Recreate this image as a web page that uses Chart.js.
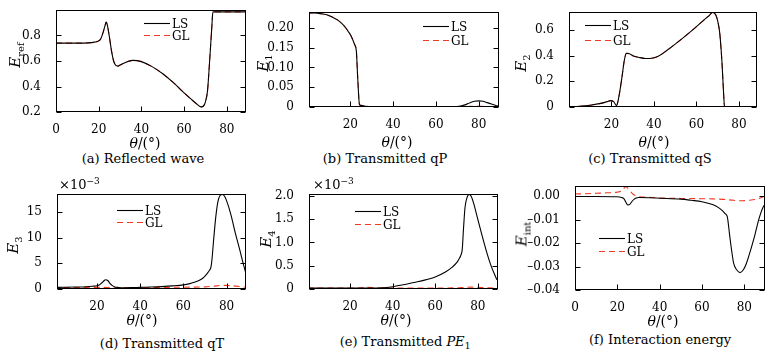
<!DOCTYPE html>
<html><head><meta charset="utf-8">
<script src="https://cdn.jsdelivr.net/npm/chart.js@4.4.1/dist/chart.umd.min.js"></script>
<style>
html,body{margin:0;padding:0;background:#fff;}
#wrap{position:relative;width:775px;height:355px;overflow:hidden;font-family:'DejaVu Serif',serif;color:#000;}
canvas{position:absolute;}
.lbl{position:absolute;white-space:nowrap;transform:translate(-50%,-50%);font-size:13px;line-height:1;}
.ttl{font-size:14px;}
.ylab{position:absolute;white-space:nowrap;transform:translate(-50%,-50%) rotate(-90deg);font-size:15px;line-height:15px;}
.ylab sub{font-size:10px;line-height:0;}
.mult{position:absolute;white-space:nowrap;font-size:13px;line-height:1;transform:translateY(-50%);}
.mult sup{font-size:9px;}
</style></head>
<body><div id="wrap"></div>
<script>
// ---------- data ----------
const thetaA = [0,5,10,15,18,20,21,22,23,23.5,24,25,26,27,28,29,30,32,34,36,38,40,45,50,55,60,63,66,68,69,70,71,72,73,73.5,75,80,85,89];
const lsA    = [0.74,0.74,0.74,0.742,0.748,0.758,0.775,0.82,0.88,0.905,0.885,0.79,0.68,0.60,0.565,0.56,0.568,0.585,0.598,0.605,0.603,0.595,0.556,0.50,0.43,0.35,0.305,0.262,0.24,0.245,0.28,0.37,0.61,0.87,0.985,0.985,0.985,0.985,0.985];
const glA    = [0.74,0.74,0.74,0.742,0.748,0.758,0.775,0.82,0.88,0.905,0.885,0.79,0.68,0.60,0.565,0.56,0.568,0.585,0.598,0.605,0.603,0.595,0.556,0.50,0.43,0.35,0.305,0.262,0.24,0.245,0.28,0.37,0.61,0.87,0.985,0.985,0.985,0.985,0.985];

const thetaB = [0,3,6,9,12,14,16,18,19,20,21,22,22.8,23.5,24.3,25,27,30,40,50,60,68,70,72,74,76,78,80,82,84,86,88,89];
const lsB    = [0.238,0.2375,0.236,0.233,0.226,0.22,0.211,0.199,0.191,0.183,0.172,0.158,0.143,0.07,0.006,0.004,0.002,0.001,0.0008,0.0008,0.0008,0.001,0.0012,0.003,0.006,0.011,0.0145,0.0155,0.0145,0.011,0.0075,0.004,0.0025];
const glB    = [0.238,0.2375,0.236,0.233,0.226,0.22,0.211,0.199,0.191,0.183,0.172,0.158,0.143,0.07,0.006,0.004,0.002,0.001,0.0008,0.0008,0.0008,0.001,0.0012,0.0013,0.0014,0.0015,0.0015,0.0015,0.0015,0.0014,0.0013,0.0012,0.0012];

const thetaC = [0,5,10,15,18,19.5,21,22.4,23,24,25,26,27,28.5,30,33,36,39,42,46,50,55,60,64,66,67.5,69,70,71,72,72.8,73.2,76,80,85,89];
const lsC    = [0,0.005,0.014,0.028,0.042,0.05,0.042,0.01,0.04,0.13,0.24,0.36,0.418,0.415,0.40,0.386,0.378,0.38,0.395,0.44,0.49,0.556,0.626,0.685,0.712,0.736,0.72,0.67,0.57,0.35,0.1,0,0,0,0,0];
const glC    = [0,0.005,0.014,0.028,0.042,0.05,0.042,0.01,0.04,0.13,0.24,0.36,0.418,0.415,0.40,0.386,0.378,0.38,0.395,0.44,0.49,0.556,0.626,0.685,0.712,0.736,0.72,0.67,0.57,0.35,0.1,0,0,0,0,0];

// panel (d): values in units of 1e-3
const thetaD  = [0,5,10,15,18,20,21,22,23,24,25,26,27,28,30,33,36,40,45,50,55,60,63,65,67,69,70,71,72,72.8,73.3,74,75,76,77,78,79,80,82,84,86,88,89];
const lsD     = [0.3,0.33,0.38,0.45,0.55,0.65,0.8,1.1,1.5,1.8,1.65,1.1,0.7,0.45,0.3,0.25,0.26,0.32,0.38,0.47,0.6,0.8,1.05,1.3,1.6,2.1,2.5,3.0,3.6,4.3,6.0,9.5,14,17,18.2,18.4,18.1,17.2,14.5,11,7.8,4.5,3.0];
const thetaGD = [0,10,20,25,30,40,50,60,70,74,78,82,86,89];
const glD     = [0.3,0.3,0.32,0.3,0.22,0.25,0.3,0.35,0.42,0.55,0.7,0.65,0.5,0.35];

// panel (e): values in units of 1e-3
const thetaE  = [0,10,20,30,35,40,45,50,55,60,65,68,70,71,72,72.7,73.3,74,75,76,77,78,80,82,84,86,88,89];
const lsE     = [0.02,0.02,0.02,0.02,0.025,0.05,0.09,0.14,0.19,0.26,0.37,0.47,0.56,0.63,0.72,0.85,1.3,1.75,1.97,2.03,1.98,1.85,1.5,1.15,0.82,0.53,0.3,0.2];
const thetaGE = [0,10,20,25,28,31,35,40,50,60,70,74,77,80,85,89];
const glE     = [0.02,0.02,0.02,0.025,0.035,0.03,0.02,0.02,0.02,0.02,0.025,0.035,0.04,0.035,0.025,0.02];

const thetaF  = [0,10,20,22,23,24,25,26,27,28,29,30,35,40,50,55,60,65,68,70,71,72,73,74,75,76.5,78,79.5,81,83,85,87,89,90];
const lsF     = [-0.0002,-0.0002,-0.0003,-0.0006,-0.001,-0.0025,-0.0038,-0.0034,-0.0022,-0.0013,-0.0008,-0.0006,-0.0007,-0.0009,-0.0013,-0.0018,-0.0024,-0.0036,-0.005,-0.0065,-0.0075,-0.0088,-0.016,-0.023,-0.0287,-0.0315,-0.0326,-0.0315,-0.0287,-0.023,-0.0166,-0.0095,-0.0045,-0.0035];
const thetaGF = [0,5,10,15,20,22,23,24,25,26,27,28,29,30,35,40,50,60,65,70,75,78,82,86,89,90];
const glF     = [0.0009,0.001,0.0012,0.0014,0.0017,0.0022,0.0032,0.004,0.0033,0.0022,0.0012,0.0005,0.0001,-0.0002,-0.0005,-0.0008,-0.001,-0.0011,-0.0012,-0.0014,-0.0018,-0.002,-0.0018,-0.0013,-0.0003,-0.0001];

// tick values and labels
const xTicks0 = [0,20,40,60,80];
const xTicks20 = [20,40,60,80];
const yTicksA = [0.2,0.4,0.6,0.8];        const yLabA = ['0.2','0.4','0.6','0.8'];
const yTicksB = [0,0.05,0.10,0.15,0.20];  const yLabB = ['0','0.05','0.10','0.15','0.20'];
const yTicksC = [0,0.2,0.4,0.6];          const yLabC = ['0','0.2','0.4','0.6'];
const yTicksD = [0,5,10,15];              const yLabD = ['0','5','10','15'];
const yTicksE = [0,0.5,1.0,1.5,2.0];      const yLabE = ['0','0.5','1.0','1.5','2.0'];
const yTicksF = [-0.04,-0.03,-0.02,-0.01,0]; const yLabF = ['\u20130.04','\u20130.03','\u20130.02','\u20130.01','0.00'];
const seriesNames = ['LS','GL'];

// ---------- layout / style ----------
const RED = '#ee3a22';
const FONT = "'DejaVu Serif', serif";
Chart.defaults.font.family = FONT;
Chart.defaults.font.size = 12;
Chart.defaults.color = '#000';

const panels = [
  {L:56,R:246,T:10,B:112, x:[0,89],   y:[0.2,1.0],   xt:xTicks0,  yt:yTicksA, yl:yLabA, ls:[thetaA,lsA], gl:[thetaA,glA], leg:[88,13,25]},
  {L:309,R:499,T:12,B:107, x:[0.7,89.5], y:[0,0.24],  xt:xTicks20, yt:yTicksB, yl:yLabB, ls:[thetaB,lsB], gl:[thetaB,glB], leg:[114,14,28]},
  {L:569,R:757,T:12,B:107, x:[0,88.5], y:[0,0.74],    xt:xTicks20, yt:yTicksC, yl:yLabC, ls:[thetaC,lsC], gl:[thetaC,glC], leg:[16,13,28]},
  {L:57,R:246,T:194,B:289, x:[1.5,89], y:[0,18.5],    xt:xTicks20, yt:yTicksD, yl:yLabD, ls:[thetaD,lsD], gl:[thetaGD,glD], leg:[60,16,28]},
  {L:309,R:498,T:194,B:289, x:[0.7,89.5], y:[0,2.04], xt:xTicks20, yt:yTicksE, yl:yLabE, ls:[thetaE,lsE], gl:[thetaGE,glE], leg:[46,17,30]},
  {L:575,R:765,T:186,B:290, x:[0,89.8], y:[-0.04,0.0043], xt:xTicks0, yt:yTicksF, yl:yLabF, ls:[thetaF,lsF], gl:[thetaGF,glF], leg:[24,52,65]}
];

const texts = [
  {cls:'lbl', x:143, y:158, html:'(a) Reflected wave'},
  {cls:'lbl', x:385, y:158, html:'(b) Transmitted qP'},
  {cls:'lbl', x:650, y:158, html:'(c) Transmitted qS'},
  {cls:'lbl', x:162, y:343, html:'(d) Transmitted qT'},
  {cls:'lbl', x:405, y:343, html:'(e) Transmitted <i>PE</i><sub style="font-size:9px">1</sub>'},
  {cls:'lbl', x:660, y:339, html:'(f) Interaction energy'},
  {cls:'lbl ttl', x:145, y:143, html:'<i>θ</i>/(°)'},
  {cls:'lbl ttl', x:397, y:142, html:'<i>θ</i>/(°)'},
  {cls:'lbl ttl', x:654, y:142, html:'<i>θ</i>/(°)'},
  {cls:'lbl ttl', x:142, y:320, html:'<i>θ</i>/(°)'},
  {cls:'lbl ttl', x:396, y:320, html:'<i>θ</i>/(°)'},
  {cls:'lbl ttl', x:663, y:321, html:'<i>θ</i>/(°)'},
  {cls:'ylab', x:15, y:55, html:'<i>E</i><sub>ref</sub>'},
  {cls:'ylab', x:263, y:63, html:'<i>E</i><sub>1</sub>'},
  {cls:'ylab', x:521, y:63, html:'<i>E</i><sub>2</sub>'},
  {cls:'ylab', x:13, y:245, html:'<i>E</i><sub>3</sub>'},
  {cls:'ylab', x:266, y:239, html:'<i>E</i><sub>4</sub>'},
  {cls:'ylab', x:522, y:234, html:'<i>E</i><sub>int</sub>'},
  {cls:'mult', x:59, y:184, html:'×10<sup>−3</sup>'},
  {cls:'mult', x:313, y:184, html:'×10<sup>−3</sup>'}
];

const framePlugin = {
  id:'frame',
  afterDatasetsDraw(chart){
    const {ctx, chartArea:a, scales:{x, y}} = chart;
    ctx.save();
    ctx.strokeStyle = '#000'; ctx.lineWidth = 1;
    const l = Math.round(a.left)+0.5, t = Math.round(a.top)+0.5, r = Math.round(a.right)-0.5, b = Math.round(a.bottom)-0.5;
    ctx.strokeRect(l, t, r-l, b-t);
    ctx.beginPath();
    x.ticks.forEach(tk => { const px = Math.round(x.getPixelForValue(tk.value))+0.5; ctx.moveTo(px, b); ctx.lineTo(px, b-5); });
    y.ticks.forEach(tk => { const py = Math.round(y.getPixelForValue(tk.value))+0.5; ctx.moveTo(l, py); ctx.lineTo(l+5, py); ctx.moveTo(r, py); ctx.lineTo(r-5, py); });
    ctx.stroke();
    ctx.restore();
  }
};

const legendPlugin = {
  id:'boxLegend',
  afterDraw(chart, args, opts){
    const {ctx, chartArea:a} = chart;
    const x0 = a.left + opts.dx;
    const ys = [a.top + opts.dy1, a.top + opts.dy2];
    ctx.save();
    chart.data.datasets.forEach((ds, i) => {
      const yy = Math.round(ys[i]) + 0.5;
      ctx.strokeStyle = ds.borderColor; ctx.lineWidth = ds.borderWidth;
      ctx.setLineDash(ds.borderDash || []);
      ctx.beginPath(); ctx.moveTo(x0, yy); ctx.lineTo(x0 + 26, yy); ctx.stroke();
      ctx.setLineDash([]);
      ctx.fillStyle = '#000'; ctx.font = '12px ' + FONT; ctx.textBaseline = 'middle'; ctx.textAlign = 'left';
      ctx.fillText(ds.label, x0 + 28, yy + 1);
    });
    ctx.restore();
  }
};

const wrap = document.getElementById('wrap');
const YW = 55, PT = 18, PR = 6, XH = 24;

panels.forEach(p => {
  const cv = document.createElement('canvas');
  const w = YW + (p.R - p.L) + PR, h = PT + (p.B - p.T) + XH;
  cv.width = w; cv.height = h;
  cv.style.left = (p.L - YW) + 'px'; cv.style.top = (p.T - PT) + 'px';
  cv.style.width = w + 'px'; cv.style.height = h + 'px';
  wrap.appendChild(cv);
  const mk = (arr) => arr[0].map((x, i) => ({x, y: arr[1][i]}));
  new Chart(cv, {
    type:'line',
    data:{datasets:[
      {label:seriesNames[0], data:mk(p.ls), borderColor:'#000', borderWidth:1.1, pointRadius:0, cubicInterpolationMode:'monotone', fill:false},
      {label:seriesNames[1], data:mk(p.gl), borderColor:RED, borderWidth:1.1, borderDash:[6,4], pointRadius:0, cubicInterpolationMode:'monotone', fill:false}
    ]},
    options:{
      responsive:false, animation:false, devicePixelRatio:1,
      layout:{padding:{top:PT, right:PR, left:0, bottom:0}},
      plugins:{legend:{display:false}, tooltip:{enabled:false}, boxLegend:{dx:p.leg[0], dy1:p.leg[1], dy2:p.leg[2]}},
      scales:{
        x:{type:'linear', min:p.x[0], max:p.x[1], grid:{display:false}, border:{display:false},
           ticks:{padding:3, maxRotation:0, autoSkip:false, color:'#000', font:{family:FONT, size:12}},
           afterBuildTicks:s => { s.ticks = p.xt.map(v => ({value:v})); },
           afterFit:s => { s.height = XH; }},
        y:{type:'linear', min:p.y[0], max:p.y[1], grid:{display:false}, border:{display:false},
           ticks:{padding:7, autoSkip:false, color:'#000', font:{family:FONT, size:12}, callback:(v, i) => p.yl[i]},
           afterBuildTicks:s => { s.ticks = p.yt.map(v => ({value:v})); },
           afterFit:s => { s.width = YW; }}
      }
    },
    plugins:[framePlugin, legendPlugin]
  });
});

texts.forEach(t => {
  const d = document.createElement('div');
  d.className = t.cls; d.style.left = t.x + 'px'; d.style.top = t.y + 'px';
  d.innerHTML = t.html;
  wrap.appendChild(d);
});
</script>
</body></html>
